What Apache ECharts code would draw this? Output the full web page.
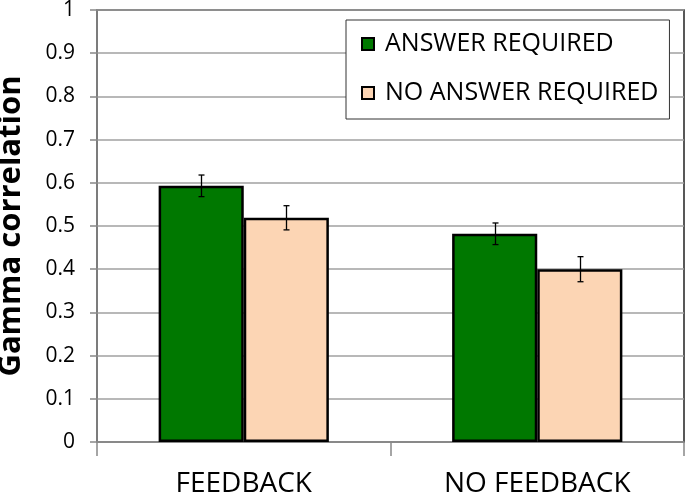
<!DOCTYPE html>
<html>
<head>
<meta charset="utf-8">
<script src="https://cdn.jsdelivr.net/npm/echarts@6/dist/echarts.min.js"></script>
<style>
  html, body { margin: 0; padding: 0; background: #fff; }
  #chart { width: 685px; height: 498px; }
</style>
</head>
<body>
<div id="chart"></div>
<script>
// values
var categories = ["FEEDBACK", "NO FEEDBACK"];
var seriesNames = ["ANSWER REQUIRED", "NO ANSWER REQUIRED"];
var answerRequired = [0.593, 0.482];
var noAnswerRequired = [0.519, 0.400];
var answerRequiredErr = [0.025, 0.025];
var noAnswerRequiredErr = [0.028, 0.029];
var yTicks = [0, 0.1, 0.2, 0.3, 0.4, 0.5, 0.6, 0.7, 0.8, 0.9, 1];

var FONT = "Open Sans";
var GAP = 0.42; // barCategoryGap as fraction

var chart = echarts.init(document.getElementById("chart"), null, { renderer: "canvas" });

function errorSeries(values, errs, side) {
  var data = values.map(function (v, i) { return [i, v - errs[i], v + errs[i]]; });
  return {
    type: "custom",
    name: "err" + side,
    silent: true,
    z: 10,
    data: data,
    renderItem: function (params, api) {
      var band = api.size([1, 0])[0];
      var bw = band * (1 - GAP) / 2;
      var lo = api.coord([api.value(0), api.value(1)]);
      var hi = api.coord([api.value(0), api.value(2)]);
      var x = Math.round(lo[0] + side * bw / 2) + 0.5;
      var cap = 3;
      var style = { stroke: "#000", lineWidth: 1.3 };
      return {
        type: "group",
        children: [
          { type: "line", shape: { x1: x, y1: lo[1], x2: x, y2: hi[1] }, style: style },
          { type: "line", shape: { x1: x - cap, y1: lo[1], x2: x + cap, y2: lo[1] }, style: style },
          { type: "line", shape: { x1: x - cap, y1: hi[1], x2: x + cap, y2: hi[1] }, style: style }
        ]
      };
    }
  };
}

chart.setOption({
  backgroundColor: "#fff",
  animation: false,
  grid: {
    left: 97,
    right: 1,
    top: 10,
    bottom: 56,
    containLabel: false,
    outerBoundsMode: "none",
    show: true,
    borderColor: "#222",
    borderWidth: 1.5,
    backgroundColor: "transparent"
  },
  legend: {
    data: seriesNames,
    orient: "vertical",
    left: 346,
    top: 20,
    padding: [11, 11, 13, 15],
    itemGap: 23,
    itemWidth: 12,
    itemHeight: 12,
    icon: "rect",
    backgroundColor: "#fff",
    borderColor: "#333",
    borderWidth: 1,
    textStyle: { fontFamily: FONT, fontSize: 25, color: "#000", lineHeight: 26, padding: [0, 0, 0, 6] }
  },
  xAxis: {
    type: "category",
    data: categories,
    axisLine: { lineStyle: { color: "#888", width: 1.5 } },
    axisTick: { show: true, length: 14, lineStyle: { color: "#888", width: 1.5 } },
    axisLabel: { fontFamily: FONT, fontSize: 28, color: "#000", margin: 28 },
    splitLine: { show: false }
  },
  yAxis: {
    type: "value",
    min: 0,
    max: 1,
    interval: 0.1,
    name: "Gamma correlation",
    nameLocation: "middle",
    nameGap: 70,
    nameTextStyle: { fontFamily: FONT, fontSize: 31, fontWeight: "bold", color: "#000" },
    axisLine: { show: true, lineStyle: { color: "#888", width: 1.5 } },
    axisTick: { show: true, length: 7, lineStyle: { color: "#888", width: 1.5 } },
    axisLabel: {
      fontFamily: FONT, fontSize: 21, color: "#000", margin: 22,
      formatter: function (v) {
        var t = yTicks.find(function (k) { return Math.abs(k - v) < 1e-6; });
        return t === undefined ? "" : String(t);
      }
    },
    splitLine: { lineStyle: { color: "#a0a0a0", width: 1.5 } }
  },
  series: [
    {
      name: seriesNames[0],
      type: "bar",
      data: answerRequired,
      barGap: "0%",
      barCategoryGap: (GAP * 100) + "%",
      itemStyle: { color: "#007800", borderColor: "#000", borderWidth: 2.5 }
    },
    {
      name: seriesNames[1],
      type: "bar",
      data: noAnswerRequired,
      barGap: "0%",
      barCategoryGap: (GAP * 100) + "%",
      itemStyle: { color: "#fcd5b4", borderColor: "#000", borderWidth: 2.5 }
    },
    errorSeries(answerRequired, answerRequiredErr, -1),
    errorSeries(noAnswerRequired, noAnswerRequiredErr, 1)
  ]
});
</script>
</body>
</html>
